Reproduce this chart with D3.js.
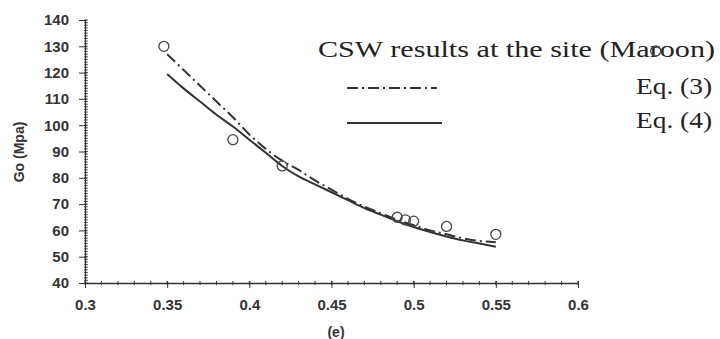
<!DOCTYPE html>
<html>
<head>
<meta charset="utf-8">
<script src="https://cdn.jsdelivr.net/npm/d3@7"></script>
<style>
  body { margin: 0; background: #fff; }
  svg { display: block; }
</style>
</head>
<body>
<div id="chart"></div>
<script>
// measured CSW results (void ratio e vs Go)
const siteE  = [0.348, 0.39, 0.42, 0.49, 0.495, 0.50, 0.52, 0.55];
const siteGo = [130,   94.5, 84.5, 65,   64,    63.5, 61.5, 58.5];

// curves
const eqE  = [0.35, 0.36, 0.37, 0.38, 0.39, 0.40, 0.41, 0.42, 0.43, 0.44, 0.45,
              0.46, 0.47, 0.48, 0.49, 0.50, 0.51, 0.52, 0.53, 0.54, 0.55];
const eq3Go = [127, 121, 115, 109, 103, 96.5, 91, 86.5, 83, 79, 75.5,
               72, 69, 66.5, 64, 62, 60, 58.5, 57, 56, 55.5];
const eq4Go = [119.5, 114, 109, 104, 99.5, 94.5, 89.5, 84.5, 80.5, 77.5, 74.5,
               71.5, 68.5, 66, 63.5, 61.3, 59.4, 57.7, 56.2, 55, 53.8];

const xTicks = [0.3, 0.35, 0.4, 0.45, 0.5, 0.55, 0.6];
const yTicks = [40, 50, 60, 70, 80, 90, 100, 110, 120, 130, 140];

const width = 720, height = 339;
const ink = "#333";
const sans = "Arial, 'Liberation Sans', sans-serif";
const serif = "'Liberation Serif', 'Times New Roman', serif";

const svg = d3.select("#chart")
  .append("svg")
  .attr("width", width)
  .attr("height", height);

const x = d3.scaleLinear().domain([0.3, 0.6]).range([85, 578]);
const y = d3.scaleLinear().domain([40, 140]).range([283, 20]);

// x axis, minor ticks every 0.01
const xMinor = d3.range(30, 61).map(d => d / 100);
svg.append("g")
  .attr("class", "xminor")
  .selectAll("line")
  .data(xMinor)
  .enter()
  .append("line")
  .attr("x1", d => x(d)).attr("x2", d => x(d))
  .attr("y1", y(40) - 2).attr("y2", y(40) + 2)
  .attr("stroke", ink).attr("stroke-width", 1);

const xAxis = svg.append("g")
  .attr("class", "xaxis")
  .attr("transform", "translate(0," + y(40) + ")")
  .call(d3.axisBottom(x).tickValues(xTicks).tickSize(5).tickSizeOuter(0)
    .tickFormat(d => d3.format("")(d)));
xAxis.select(".domain").attr("stroke", ink).attr("stroke-width", 1.3);
xAxis.selectAll(".tick line").attr("stroke", ink).attr("y1", -2);
xAxis.selectAll(".tick text")
  .attr("y", 16)
  .attr("fill", "#333")
  .style("font", "bold 15px " + sans);

// y axis, minor ticks every 1
const yMinor = d3.range(40, 141);
svg.append("g")
  .attr("class", "yminor")
  .selectAll("line")
  .data(yMinor)
  .enter()
  .append("line")
  .attr("x1", x(0.3) - 1).attr("x2", x(0.3) + 3)
  .attr("y1", d => y(d)).attr("y2", d => y(d))
  .attr("stroke", ink).attr("stroke-width", 0.8);

const yAxis = svg.append("g")
  .attr("class", "yaxis")
  .attr("transform", "translate(" + x(0.3) + ",0)")
  .call(d3.axisLeft(y).tickValues(yTicks).tickSize(6).tickSizeOuter(0));
yAxis.select(".domain").attr("stroke", ink).attr("stroke-width", 1.3);
yAxis.selectAll(".tick line").attr("stroke", ink).attr("x2", 2).attr("x1", -6);
yAxis.selectAll(".tick text")
  .attr("x", -16)
  .attr("fill", "#333")
  .style("font", "bold 15px " + sans);

// axis titles
svg.append("text")
  .attr("x", 336)
  .attr("y", 337)
  .attr("text-anchor", "middle")
  .attr("fill", "#333")
  .style("font", "bold 14px " + sans)
  .text("(e)");

svg.append("text")
  .attr("transform", "translate(24,152) rotate(-90)")
  .attr("text-anchor", "middle")
  .attr("fill", "#333")
  .style("font", "bold 14px " + sans)
  .text("Go (Mpa)");

// curves
const line = d3.line()
  .x((d, i) => x(eqE[i]))
  .y(d => y(d))
  .curve(d3.curveMonotoneX);

svg.append("path")
  .datum(eq3Go)
  .attr("fill", "none")
  .attr("stroke", ink)
  .attr("stroke-width", 2)
  .attr("stroke-dasharray", "11,4,2,4")
  .attr("d", line);

svg.append("path")
  .datum(eq4Go)
  .attr("fill", "none")
  .attr("stroke", ink)
  .attr("stroke-width", 2)
  .attr("d", line);

// site points
svg.append("g")
  .selectAll("circle")
  .data(siteGo)
  .enter()
  .append("circle")
  .attr("cx", (d, i) => x(siteE[i]))
  .attr("cy", d => y(d))
  .attr("r", 5)
  .attr("fill", "none")
  .attr("stroke", "#444")
  .attr("stroke-width", 1.3);

// legend
const legendTitle = "CSW results at the site (Maroon)";
const t1 = svg.append("text")
  .attr("x", 318).attr("y", 57)
  .attr("fill", "#222")
  .attr("textLength", 397).attr("lengthAdjust", "spacingAndGlyphs")
  .style("font-family", serif).style("font-size", "23px")
  .text(legendTitle);

// the marker sits on top of the "r" in Maroon, as in the scan
const rIdx = legendTitle.indexOf("roon");
const rBox = t1.node().getExtentOfChar(rIdx);
svg.append("circle")
  .attr("cx", rBox.x + rBox.width / 2 + 1).attr("cy", 51).attr("r", 5)
  .attr("fill", "none").attr("stroke", "#444").attr("stroke-width", 1.3);

svg.append("line")
  .attr("x1", 347).attr("x2", 437).attr("y1", 88).attr("y2", 88)
  .attr("stroke", ink).attr("stroke-width", 2)
  .attr("stroke-dasharray", "11,4,2,4");
svg.append("text")
  .attr("x", 636).attr("y", 94)
  .attr("fill", "#222")
  .attr("textLength", 76).attr("lengthAdjust", "spacingAndGlyphs")
  .style("font-family", serif).style("font-size", "23px")
  .text("Eq. (3)");

svg.append("line")
  .attr("x1", 347).attr("x2", 442).attr("y1", 123).attr("y2", 123)
  .attr("stroke", ink).attr("stroke-width", 2);
svg.append("text")
  .attr("x", 636).attr("y", 128)
  .attr("fill", "#222")
  .attr("textLength", 76).attr("lengthAdjust", "spacingAndGlyphs")
  .style("font-family", serif).style("font-size", "23px")
  .text("Eq. (4)");
</script>
</body>
</html>
